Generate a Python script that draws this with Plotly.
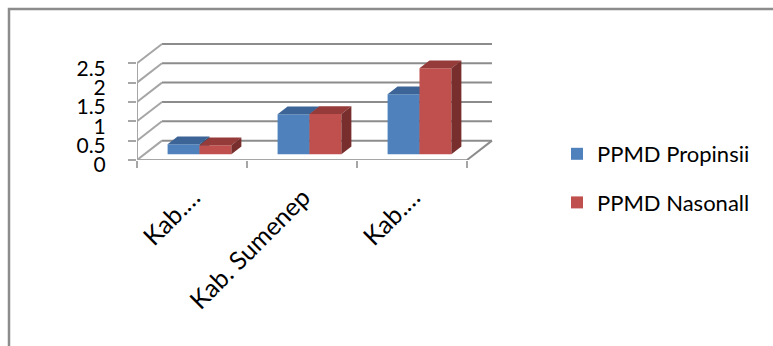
import plotly.graph_objects as go

# ---- data ----
categories = ["Kab.…", "Kab. Sumenep", "Kab.…"]
series_names = ["PPMD Propinsii", "PPMD Nasonall"]
propinsi = [0.26, 1.03, 1.55]
nasional = [0.23, 1.04, 2.22]
y_ticks = [0, 0.5, 1, 1.5, 2, 2.5]
y_tick_text = ["0", "0.5", "1", "1.5", "2", "2.5"]

# ---- styling / projection ----
DX, DY = 0.227, 0.50          # oblique depth offset (category units, value units)
D0, D1 = 0.30, 0.70           # bar depth span
BW = 0.29                     # bar width in category units
front_cols = ["#4F81BD", "#C0504D"]
top_cols = ["#3C6496", "#953B39"]
side_cols = ["#2F4F78", "#772E2C"]
GRID = "#8C8C8C"
WALL = "#A6A6A6"
FONT = "Lato, Carlito, Liberation Sans, sans-serif"

ncat = len(categories)
ymax = y_ticks[-1]

fig = go.Figure()

def line(xs, ys, color, width=2):
    fig.add_trace(go.Scatter(x=xs, y=ys, mode="lines", line=dict(color=color, width=width),
                             hoverinfo="skip", showlegend=False, zorder=0))

# back wall gridlines
for v in y_ticks:
    line([DX, ncat + DX], [v + DY, v + DY], GRID)
# left wall slants
for v in y_ticks:
    line([0, DX], [v, v + DY], WALL)
# front left edge
line([0, 0], [0, ymax], WALL)
# floor front & right edges
line([0, ncat], [0, 0], WALL)
line([ncat, ncat + DX], [0, DY], GRID)

# bars
for s, (name, vals) in enumerate([(series_names[0], propinsi), (series_names[1], nasional)]):
    offs = (-BW / 2) if s == 0 else (BW / 2)
    xs = [i + 0.5 + offs + D0 * DX for i in range(ncat)]
    fig.add_trace(go.Bar(x=xs, y=vals, base=[D0 * DY] * ncat, width=BW,
                         marker=dict(color=front_cols[s], line=dict(width=0)),
                         name=name, legendgroup=name, zorder=2 * s + 1))
    for i, v in enumerate(vals):
        xl = i + 0.5 + offs - BW / 2
        xr = xl + BW
        # top face
        fig.add_trace(go.Scatter(
            x=[xl + D0 * DX, xr + D0 * DX, xr + D1 * DX, xl + D1 * DX, xl + D0 * DX],
            y=[v + D0 * DY, v + D0 * DY, v + D1 * DY, v + D1 * DY, v + D0 * DY],
            mode="lines", fill="toself", fillcolor=top_cols[s], line=dict(width=0, color=top_cols[s]),
            hoverinfo="skip", showlegend=False, zorder=2 * s + 1))
        # side face
        fig.add_trace(go.Scatter(
            x=[xr + D0 * DX, xr + D1 * DX, xr + D1 * DX, xr + D0 * DX, xr + D0 * DX],
            y=[D0 * DY, D1 * DY, v + D1 * DY, v + D0 * DY, D0 * DY],
            mode="lines", fill="toself", fillcolor=side_cols[s], line=dict(width=0, color=side_cols[s]),
            hoverinfo="skip", showlegend=False, zorder=2 * s + 1))

L, R, T, B = 137, 273, 42, 186
W, H = 773, 346
pw, ph = W - L - R, H - T - B
fig.update_layout(
    width=W, height=H,
    margin=dict(l=L, r=R, t=T, b=B),
    paper_bgcolor="white", plot_bgcolor="white",
    font=dict(family=FONT, size=20, color="black"),
    barmode="overlay",
    showlegend=True,
    legend=dict(x=(557 - L) / pw, xanchor="left", y=(H - B - 133) / ph, yanchor="top",
                font=dict(size=22), tracegroupgap=17, itemwidth=30,
                borderwidth=0, bgcolor="rgba(0,0,0,0)"),
    xaxis=dict(range=[0, 3.3], showgrid=False, zeroline=False, showline=False,
               tickvals=[i + 0.5 for i in range(ncat)], ticktext=categories,
               tickangle=-45, ticks="", tickfont=dict(size=25),
               ticklabelstandoff=17, ticklabelshift=1,
               minor=dict(tickvals=list(range(ncat + 1)), ticks="outside", ticklen=7,
                          tickcolor=WALL, tickwidth=2, showgrid=False)),
    yaxis=dict(range=[0, 3.05], showgrid=False, zeroline=False, showline=False,
               tickvals=y_ticks, ticktext=y_tick_text, ticks="outside", ticklen=8,
               tickcolor=WALL, tickwidth=2, tickfont=dict(size=21),
               ticklabelstandoff=18, ticklabelshift=5),
    shapes=[dict(type="path", xref="paper", yref="paper",
                 path="M {x0},{y0} L {x0},{y1} L {x2},{y1}".format(
                     x0=(9 - L) / pw, y0=(H - B - 360) / ph, y1=(H - B - 9) / ph, x2=(790 - L) / pw),
                 line=dict(color="#8C8C8C", width=2.5))],
)

fig.write_html("out.html")
